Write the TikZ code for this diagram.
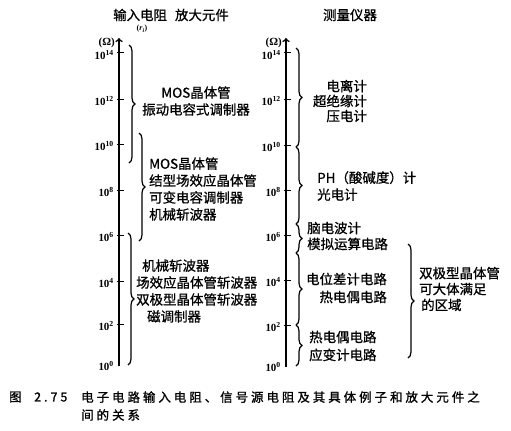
\documentclass[tikz,border=0pt]{standalone}
\usepackage{fontspec}
\newfontfamily\cjk[FakeBold=0.8]{Noto Sans CJK SC}
\newfontfamily\cjkcap[LetterSpace=24,FakeBold=1.2]{Noto Sans CJK SC}
\newfontfamily\numfont{Liberation Serif}
\usetikzlibrary{decorations.pathreplacing}
\newcommand{\pw}[1]{10\textsuperscript{#1}}

\begin{document}
\begin{tikzpicture}[x=1bp, y=-1bp,
    axis/.style={line width=1.6bp, ->},
    tick/.style={line width=1bp},
    brace/.style={decorate, decoration={brace, amplitude=6bp}, line width=1.2bp},
    lbl/.style={font=\cjk\fontsize{13.5}{17}\selectfont, inner sep=0pt},
    num/.style={font=\numfont\fontsize{11}{11}\selectfont\bfseries, inner sep=0pt, anchor=east},
    captext/.style={font=\cjkcap\fontsize{12.5}{18}\selectfont, inner sep=0pt, anchor=west}]
    \useasboundingbox (0,0) rectangle (511,430);

    % headers
    \node[lbl] (hdl) at (171,15) {输入电阻\hspace{8bp}放大元件};
    \node[font=\numfont\fontsize{8}{8}\selectfont\bfseries, inner sep=0pt] (ri) at (142,29) {(\textit{r}\textsubscript{\textit{i}})};
    \node[lbl] (hdr) at (350,15) {测量仪器};

    % left axis
    \coordinate (lbot) at (119,366);
    \coordinate (ltop) at (119,38);
    \draw[axis] (lbot) -- (ltop);
    \node[num] (lohm) at (115,43) {(Ω)};
    \draw[tick] (117,52) -- (124,52);
    \node[num] (l14) at (114,55) {\pw{14}};
    \draw[tick] (117,99) -- (124,99);
    \node[num] (l12) at (114,101) {\pw{12}};
    \draw[tick] (117,144) -- (124,144);
    \node[num] (l10) at (114,146) {\pw{10}};
    \draw[tick] (117,190) -- (124,190);
    \node[num] (l8) at (114,192) {\pw{8}};
    \draw[tick] (117,235) -- (124,235);
    \node[num] (l6) at (114,237) {\pw{6}};
    \draw[tick] (117,281) -- (124,281);
    \node[num] (l4) at (114,283) {\pw{4}};
    \draw[tick] (117,324) -- (124,324);
    \node[num] (l2) at (114,326) {\pw{2}};
    \node[num] (l0) at (114,366) {\pw{0}};

    % left braces
    \coordinate (lb1t) at (129,45);
    \coordinate (lb1b) at (129,163);
    \draw[brace] (lb1t) -- (lb1b);
    \coordinate (lb2t) at (139,133);
    \coordinate (lb2b) at (139,241);
    \draw[brace] (lb2t) -- (lb2b);
    \coordinate (lb3t) at (128,233);
    \coordinate (lb3b) at (128,365);
    \draw[brace] (lb3t) -- (lb3b);

    \node[lbl, align=center] (mos1) at (196,101) {MOS晶体管\\振动电容式调制器};
    \node[lbl, align=left, anchor=west] (mos2) at (149,189) {MOS晶体管\\结型场效应晶体管\\可变电容调制器\\机械斩波器};
    \node[lbl, align=left, anchor=west] (chop) at (136,291) {\hspace*{6bp}机械斩波器\\场效应晶体管斩波器\\双极型晶体管斩波器\\\hspace*{11bp}磁调制器};

    % right axis
    \coordinate (rbot) at (286,367);
    \coordinate (rtop) at (286,38);
    \draw[axis] (rbot) -- (rtop);
    \node[num] (rohm) at (282,43) {(Ω)};
    \draw[tick] (284,52) -- (291,52);
    \node[num] (r14) at (281,55) {\pw{14}};
    \draw[tick] (284,99) -- (291,99);
    \node[num] (r12) at (281,101) {\pw{12}};
    \draw[tick] (284,145) -- (291,145);
    \node[num] (r10) at (281,147) {\pw{10}};
    \draw[tick] (284,190) -- (291,190);
    \node[num] (r8) at (281,192) {\pw{8}};
    \draw[tick] (284,235) -- (291,235);
    \node[num] (r6) at (281,237) {\pw{6}};
    \draw[tick] (284,280) -- (291,280);
    \node[num] (r4) at (281,282) {\pw{4}};
    \draw[tick] (284,325) -- (291,325);
    \node[num] (r2) at (281,327) {\pw{2}};
    \node[num] (r0) at (281,367) {\pw{0}};

    % right braces
    \coordinate (rba) at (296,48);
    \coordinate (rbb) at (296,147);
    \coordinate (rbc) at (296,224);
    \coordinate (rbd) at (296,253);
    \coordinate (rbe) at (296,325);
    \coordinate (rbf) at (296,366);
    \draw[brace] (rba) -- (rbb);
    \draw[brace] (rbb) -- (rbc);
    \draw[brace] (rbc) -- (rbd);
    \draw[brace] (rbd) -- (rbe);
    \draw[brace] (rbe) -- (rbf);
    \coordinate (bigt) at (408,244);
    \coordinate (bigb) at (408,358);
    \draw[brace] (bigt) -- (bigb);

    \node[lbl, align=right, anchor=east, font=\cjk\fontsize{13.5}{15}\selectfont] (ion) at (367,101) {电离计\\超绝缘计\\压电计};
    \node[lbl, align=left, anchor=west] (ph) at (317,186) {PH（酸碱度）计\\光电计};
    \node[lbl, align=left, anchor=west, font=\cjk\fontsize{13.5}{16}\selectfont] (eeg) at (307,236) {脑电波计\\模拟运算电路};
    \node[lbl, align=right, anchor=east, font=\cjk\fontsize{13.5}{18}\selectfont] (pot) at (387,288) {电位差计电路\\热电偶电路};
    \node[lbl, align=left, anchor=west, font=\cjk\fontsize{13.5}{18}\selectfont] (tc) at (309,346) {热电偶电路\\应变计电路};
    \node[lbl, align=left, anchor=west, font=\cjk\fontsize{13.5}{16}\selectfont] (bjt) at (419,289) {双极型晶体管\\可大体满足\\\hspace*{2bp}的区域};

    % caption
    \node[captext] (fig) at (9,397) {图};
    \node[captext] (fignum) at (34,397) {2.75};
    \node[captext, align=left] (captxt) at (81,406) {电子电路输入电阻、信号源电阻及其具体例子和放大元件之\\间的关系};
\end{tikzpicture}
\end{document}
